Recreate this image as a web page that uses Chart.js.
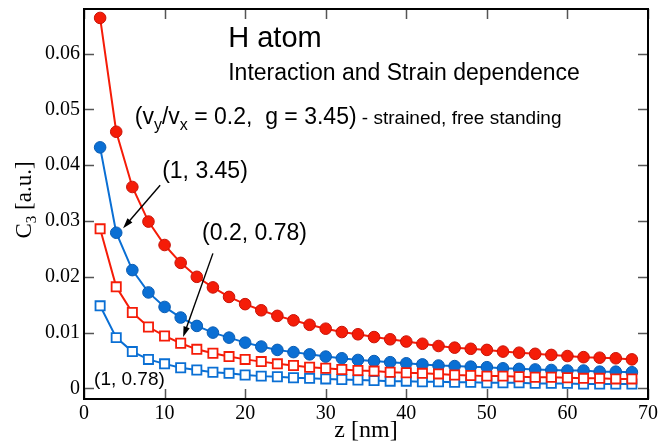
<!DOCTYPE html>
<html>
<head>
<meta charset="utf-8">
<script src="https://cdn.jsdelivr.net/npm/chart.js@4.4.1/dist/chart.umd.min.js"></script>
<style>
  body { margin: 0; background: #fff; }
  #wrap { width: 662px; height: 445px; }
</style>
</head>
<body>
<div id="wrap"><canvas id="myChart"></canvas></div>
<script>
// z positions [nm]
var zVals = [2, 4, 6, 8, 10, 12, 14, 16, 18, 20, 22, 24, 26, 28, 30, 32, 34,
             36, 38, 40, 42, 44, 46, 48, 50, 52, 54, 56, 58, 60, 62, 64, 66, 68];

// (0.2, 3.45) strained, free standing - red filled circles
var c3Red345 = [0.0664, 0.0460, 0.0361, 0.0299, 0.0257, 0.0225, 0.0200, 0.0181, 0.0164, 0.0151,
                0.0140, 0.0130, 0.0122, 0.0114, 0.0107, 0.0101, 0.0097, 0.0092, 0.0088, 0.0084,
                0.0080, 0.0076, 0.0073, 0.0071, 0.0069, 0.0066, 0.0064, 0.0062, 0.0060, 0.0058,
                0.0056, 0.0055, 0.0054, 0.0052];
// (1, 3.45) - blue filled circles
var c3Blue345 = [0.0432, 0.0279, 0.0212, 0.0172, 0.0146, 0.0127, 0.0112, 0.0100, 0.0091, 0.0082,
                 0.0075, 0.0069, 0.0065, 0.0061, 0.0057, 0.0054, 0.0051, 0.0049, 0.0047, 0.0045,
                 0.0043, 0.0041, 0.0040, 0.0039, 0.0038, 0.0036, 0.0035, 0.0034, 0.0033, 0.0032,
                 0.0032, 0.0030, 0.0030, 0.0029];
// (0.2, 0.78) - red open squares
var c3Red078 = [0.0286, 0.0182, 0.0136, 0.0110, 0.0094, 0.0081, 0.0070, 0.0063, 0.0057, 0.0052,
                0.0048, 0.0044, 0.0041, 0.0038, 0.0036, 0.0034, 0.0032, 0.0031, 0.0029, 0.0028,
                0.0027, 0.0026, 0.0024, 0.0023, 0.0022, 0.0022, 0.0021, 0.0020, 0.0020, 0.0019,
                0.0018, 0.0018, 0.0017, 0.0017];
// (1, 0.78) - blue open squares
var c3Blue078 = [0.0148, 0.0091, 0.0066, 0.0052, 0.0044, 0.0037, 0.0033, 0.0029, 0.0027, 0.0024,
                 0.0022, 0.0021, 0.0019, 0.0018, 0.0017, 0.0016, 0.0015, 0.0014, 0.0013, 0.0013,
                 0.0012, 0.0012, 0.0011, 0.0011, 0.0010, 0.0010, 0.0010, 0.0009, 0.0009, 0.0009,
                 0.0008, 0.0008, 0.0008, 0.0008];

var xTickVals = [0, 10, 20, 30, 40, 50, 60, 70];
var xTickLabels = ['0', '10', '20', '30', '40', '50', '60', '70'];
var yTickVals = [0, 0.01, 0.02, 0.03, 0.04, 0.05, 0.06];
var yTickLabels = ['0', '0.01', '0.02', '0.03', '0.04', '0.05', '0.06'];

var RED = '#f51c08', RED_DARK = '#c81206', BLUE = '#0a6fd4', BLUE_DARK = '#0a5cb2';
var SERIF = '"Liberation Serif", "Times New Roman", serif';
var SANS = '"Liberation Sans", Arial, Helvetica, sans-serif';

function pts(vals) {
    return zVals.map(function(z, i) { return { x: z, y: vals[i] }; });
}

function labelFor(list, vals, v) {
    for (var i = 0; i < vals.length; i++) {
        if (Math.abs(vals[i] - v) < 1e-9) return list[i];
    }
    return '';
}

// frame, inward ticks, y title, annotations and arrows
var decor = {
    id: 'decor',
    afterDraw: function(chart) {
        var ctx = chart.ctx, a = chart.chartArea;
        var xs = chart.scales.x, ys = chart.scales.y;
        ctx.save();

        ctx.strokeStyle = '#555';
        ctx.lineWidth = 1.5;
        ctx.beginPath();
        xTickVals.forEach(function(v) {
            var px = Math.round(xs.getPixelForValue(v)) + 0.5;
            ctx.moveTo(px, a.bottom); ctx.lineTo(px, a.bottom - 10);
            ctx.moveTo(px, a.top); ctx.lineTo(px, a.top + 10);
        });
        yTickVals.forEach(function(v) {
            var py = Math.round(ys.getPixelForValue(v)) + 0.5;
            ctx.moveTo(a.left, py); ctx.lineTo(a.left + 10, py);
            ctx.moveTo(a.right, py); ctx.lineTo(a.right - 10, py);
        });
        ctx.stroke();

        ctx.strokeStyle = '#000';
        ctx.lineWidth = 2;
        ctx.strokeRect(a.left, a.top, a.right - a.left, a.bottom - a.top);

        // y axis title with subscript
        ctx.fillStyle = '#000';
        ctx.translate(25, (a.top + a.bottom) / 2 - 4);
        ctx.rotate(-Math.PI / 2);
        ctx.textBaseline = 'middle';
        ctx.font = '23px ' + SERIF;
        var w1 = ctx.measureText('C').width;
        ctx.font = '15px ' + SERIF;
        var w2 = ctx.measureText('3').width;
        ctx.font = '23px ' + SERIF;
        var w3 = ctx.measureText(' [a.u.]').width;
        var x0 = -(w1 + w2 + w3) / 2;
        ctx.textAlign = 'left';
        ctx.fillText('C', x0, 0);
        ctx.font = '15px ' + SERIF;
        ctx.fillText('3', x0 + w1, 7);
        ctx.font = '23px ' + SERIF;
        ctx.fillText(' [a.u.]', x0 + w1 + w2, 0);
        ctx.setTransform(1, 0, 0, 1, 0, 0);

        // annotations
        function txt(s, x, y, size) {
            ctx.font = size + 'px ' + SANS;
            ctx.fillText(s, x, y);
            return ctx.measureText(s).width;
        }
        ctx.textAlign = 'left';
        ctx.textBaseline = 'alphabetic';
        ctx.fillStyle = '#000';
        txt('H atom', xs.getPixelForValue(17.9), ys.getPixelForValue(0.0612), 29);
        txt('Interaction and Strain dependence', xs.getPixelForValue(17.9), ys.getPixelForValue(0.0553), 23);

        var px = xs.getPixelForValue(6.3), py = ys.getPixelForValue(0.0474);
        px += txt('(v', px, py, 23);
        px += txt('y', px, py + 6, 16);
        px += txt('/v', px, py, 23);
        px += txt('x', px, py + 6, 16);
        px += txt(' = 0.2,  g = 3.45)', px, py, 23);
        txt(' - strained, free standing', px, py, 19);

        txt('(1, 3.45)', xs.getPixelForValue(9.7), ys.getPixelForValue(0.0377), 23);
        txt('(0.2, 0.78)', xs.getPixelForValue(14.65), ys.getPixelForValue(0.0266), 23);
        txt('(1, 0.78)', xs.getPixelForValue(1.25), ys.getPixelForValue(0.0006), 19);

        function arrow(x1, y1, x2, y2) {
            var p1x = xs.getPixelForValue(x1), p1y = ys.getPixelForValue(y1);
            var p2x = xs.getPixelForValue(x2), p2y = ys.getPixelForValue(y2);
            var ang = Math.atan2(p2y - p1y, p2x - p1x);
            ctx.strokeStyle = '#000';
            ctx.lineWidth = 1.4;
            ctx.beginPath();
            ctx.moveTo(p1x, p1y);
            ctx.lineTo(p2x - 6 * Math.cos(ang), p2y - 6 * Math.sin(ang));
            ctx.stroke();
            ctx.beginPath();
            ctx.moveTo(p2x, p2y);
            ctx.lineTo(p2x - 11 * Math.cos(ang - 0.3), p2y - 11 * Math.sin(ang - 0.3));
            ctx.lineTo(p2x - 11 * Math.cos(ang + 0.3), p2y - 11 * Math.sin(ang + 0.3));
            ctx.closePath();
            ctx.fillStyle = '#000';
            ctx.fill();
        }
        arrow(9.45, 0.0364, 4.85, 0.0287);
        arrow(16.0, 0.0242, 12.3, 0.0092);

        ctx.restore();
    }
};

const ctx = document.getElementById('myChart').getContext('2d');
const myChart = new Chart(ctx, {
    type: 'line',
    data: {
        datasets: [{
            label: '(0.2, 0.78)',
            data: pts(c3Red078),
            borderColor: RED,
            borderWidth: 2,
            pointStyle: 'rect',
            pointRadius: 6.5,
            pointBorderWidth: 1.8,
            pointBorderColor: RED,
            pointBackgroundColor: '#fff',
            order: 1
        }, {
            label: '(1, 3.45)',
            data: pts(c3Blue345),
            borderColor: BLUE,
            borderWidth: 2,
            pointStyle: 'circle',
            pointRadius: 5.8,
            pointBorderWidth: 1,
            pointBorderColor: BLUE_DARK,
            pointBackgroundColor: BLUE,
            order: 2
        }, {
            label: '(1, 0.78)',
            data: pts(c3Blue078),
            borderColor: BLUE,
            borderWidth: 2,
            pointStyle: 'rect',
            pointRadius: 6.5,
            pointBorderWidth: 1.8,
            pointBorderColor: BLUE,
            pointBackgroundColor: '#fff',
            order: 3
        }, {
            label: '(0.2, 3.45)',
            data: pts(c3Red345),
            borderColor: RED,
            borderWidth: 2,
            pointStyle: 'circle',
            pointRadius: 5.8,
            pointBorderWidth: 1,
            pointBorderColor: RED_DARK,
            pointBackgroundColor: RED,
            order: 0
        }]
    },
    options: {
        responsive: true,
        maintainAspectRatio: false,
        animation: false,
        layout: { padding: { top: 9, right: 14, left: 0, bottom: 0 } },
        plugins: {
            legend: { display: false },
            tooltip: { enabled: false }
        },
        scales: {
            x: {
                type: 'linear',
                min: 0,
                max: 70,
                grid: { display: false, drawTicks: false },
                border: { display: false },
                afterBuildTicks: function(s) { s.ticks = xTickVals.map(function(v) { return { value: v }; }); },
                afterFit: function(s) { s.height = 46; s.paddingLeft = 0; s.paddingRight = 0; },
                ticks: {
                    padding: 3,
                    maxRotation: 0,
                    color: '#000',
                    font: { family: SERIF, size: 20 },
                    callback: function(v) { return labelFor(xTickLabels, xTickVals, v); }
                },
                title: {
                    display: true,
                    text: 'z [nm]',
                    color: '#000',
                    font: { family: SERIF, size: 24 },
                    padding: { top: 0, bottom: 0 }
                }
            },
            y: {
                type: 'linear',
                min: -0.0019,
                max: 0.068,
                grid: { display: false, drawTicks: false },
                border: { display: false },
                afterBuildTicks: function(s) { s.ticks = yTickVals.map(function(v) { return { value: v }; }); },
                afterFit: function(s) { s.width = 84; s.paddingTop = 0; s.paddingBottom = 0; },
                ticks: {
                    padding: 4,
                    color: '#000',
                    font: { family: SERIF, size: 20 },
                    callback: function(v) { return labelFor(yTickLabels, yTickVals, v); }
                }
            }
        }
    },
    plugins: [decor]
});
</script>
</body>
</html>
